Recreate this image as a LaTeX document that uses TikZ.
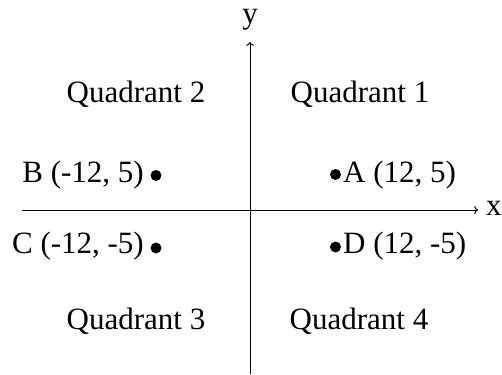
\documentclass[tikz,border=0pt]{standalone}
\usepackage{fontspec}
\setmainfont{Liberation Serif}
\usepackage{tikz}
\usetikzlibrary{positioning, arrows.meta}
\tikzset{
  txt/.style={font=\fontsize{31}{36}\selectfont, inner sep=0pt},
  pt/.style={circle, fill=black, inner sep=0pt, minimum size=11pt},
  axis/.style={->, line width=1pt},
}

\begin{document}
\begin{tikzpicture}[x=1pt, y=-1pt]
  \useasboundingbox (0,0) rectangle (502,374);
  % axes
  \coordinate (xl) at (22,210);  \coordinate (xr) at (478,210);
  \coordinate (yb) at (250,374); \coordinate (yt) at (250,42);
  \draw[axis] (xl) -- (xr);
  \draw[axis] (yb) -- (yt);
  \node[txt, anchor=base west] (xlab) at (486,215) {x};
  \node[txt, anchor=base] (ylab) at (250,24) {y};
  % quadrants
  \node[txt, anchor=base] (q1) at (360,103) {Quadrant 1};
  \node[txt, anchor=base] (q2) at (136,103) {Quadrant 2};
  \node[txt, anchor=base] (q3) at (136,329) {Quadrant 3};
  \node[txt, anchor=base] (q4) at (359,329) {Quadrant 4};
  % points
  \node[pt] (A) at (335.5,174.5) {};
  \node[pt] (B) at (156,175.5) {};
  \node[pt] (C) at (156,248) {};
  \node[pt] (D) at (335.5,247) {};
  \node[txt, anchor=base west] (Alab) at (343,182) {A (12, 5)};
  \node[txt, anchor=base east] (Blab) at (144,182) {B (-12, 5)};
  \node[txt, anchor=base east] (Clab) at (144,253) {C (-12, -5)};
  \node[txt, anchor=base west] (Dlab) at (343,253) {D (12, -5)};
\end{tikzpicture}
\end{document}
